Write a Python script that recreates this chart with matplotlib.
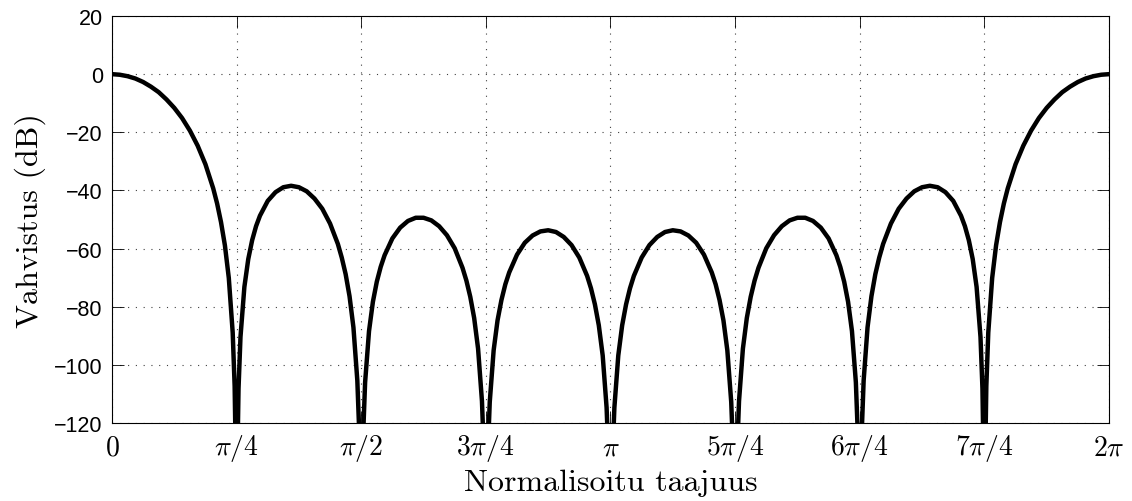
import numpy as np
import matplotlib
matplotlib.use("Agg")
import matplotlib.pyplot as plt

# Normalised frequency positions from 0 to pi, in units of pi/64
# (denser around the nulls at pi/4, pi/2, 3pi/4, pi)
freq_half = [
    0, 1, 2, 3, 4, 5, 6, 7, 8, 9, 10, 11, 12, 13, 13.5, 14, 14.5, 15, 15.5, 15.75, 16,
    16.25, 16.5, 17, 17.5, 18, 18.5, 19, 20, 21, 22, 23, 24, 25, 26, 27, 28, 29, 29.5,
    30, 30.5, 31, 31.5, 31.75, 32,
    32.25, 32.5, 33, 33.5, 34, 34.5, 35, 36, 37, 38, 39, 40, 41, 42, 43, 44, 45, 45.5,
    46, 46.5, 47, 47.5, 47.75, 48,
    48.25, 48.5, 49, 49.5, 50, 50.5, 51, 52, 53, 54, 55, 56, 57, 58, 59, 60, 61, 61.5,
    62, 62.5, 63, 63.5, 63.75, 64,
]
# Gain (dB) at those positions; nulls fall below the axis
gain_half = [
    0.0, -0.2, -0.7, -1.5, -2.7, -4.3, -6.2, -8.7, -11.6, -15.1, -19.4, -24.6, -31.0, -39.3, -44.5, -50.9, -58.9, -70.1, -88.9, -107.3, -150.0,
    -108.1, -90.4, -73.2, -63.6, -57.1, -52.3, -48.7, -43.6, -40.6, -38.9, -38.4, -38.9, -40.3, -42.8, -46.3, -51.4, -58.4, -63.1,
    -68.8, -76.4, -87.1, -105.4, -123.5, -150.0,
    -123.9, -106.0, -88.4, -78.3, -71.4, -66.3, -62.3, -56.5, -52.8, -50.5, -49.4, -49.4, -50.3, -52.3, -55.4, -59.9, -66.6, -71.0,
    -76.6, -83.9, -94.4, -112.5, -130.6, -150.0,
    -130.7, -112.8, -95.0, -84.7, -77.7, -72.3, -68.2, -62.1, -58.0, -55.5, -54.1, -53.7, -54.3, -56.0, -58.8, -63.1, -69.4, -73.7,
    -79.2, -86.4, -96.8, -114.7, -132.7, -150.0,
]
# the response is mirrored about pi
freq_steps = freq_half + [128 - f for f in freq_half[-2::-1]]
gain_db = gain_half + gain_half[-2::-1]

xtick_labels = [r"$0$", r"$\pi/4$", r"$\pi/2$", r"$3\pi/4$", r"$\pi$",
                r"$5\pi/4$", r"$6\pi/4$", r"$7\pi/4$", r"$2\pi$"]
yticks = [20, 0, -20, -40, -60, -80, -100, -120]

plt.rcParams["mathtext.fontset"] = "cm"
plt.rcParams["axes.unicode_minus"] = True

fig = plt.figure(figsize=(11.32, 5.02), dpi=100)
ax = fig.add_axes([0.0989, 0.1554, 0.8808, 0.8107])

x = np.array(freq_steps) * np.pi / 64.0
ax.plot(x, gain_db, color="black", lw=3.2, solid_joinstyle="round")

ax.set_xlim(0, 2 * np.pi)
ax.set_ylim(-120, 20)
ax.set_xticks(np.arange(9) * np.pi / 4)
ax.set_xticklabels(xtick_labels, fontsize=20)
ax.set_yticks(yticks)
ax.set_yticklabels([str(v).replace("-", "\u2212") for v in yticks],
                   fontfamily="Liberation Sans", fontsize=15.5)

ax.tick_params(direction="in", length=8.5, width=0.6, top=True, right=True,
               colors="black")
ax.tick_params(axis="x", pad=6.5)
ax.tick_params(axis="y", pad=6.5)

for s in ax.spines.values():
    s.set_linewidth(0.8)

ax.grid(True, color="0.25", linestyle=(0, (1, 6)), linewidth=0.8)

ax.set_xlabel("Normalisoitu taajuus", fontfamily="cmr10", fontsize=23, labelpad=4)
ax.set_ylabel("Vahvistus (dB)", fontfamily="cmr10", fontsize=23, labelpad=6)

fig.savefig("out.png", dpi=100)
